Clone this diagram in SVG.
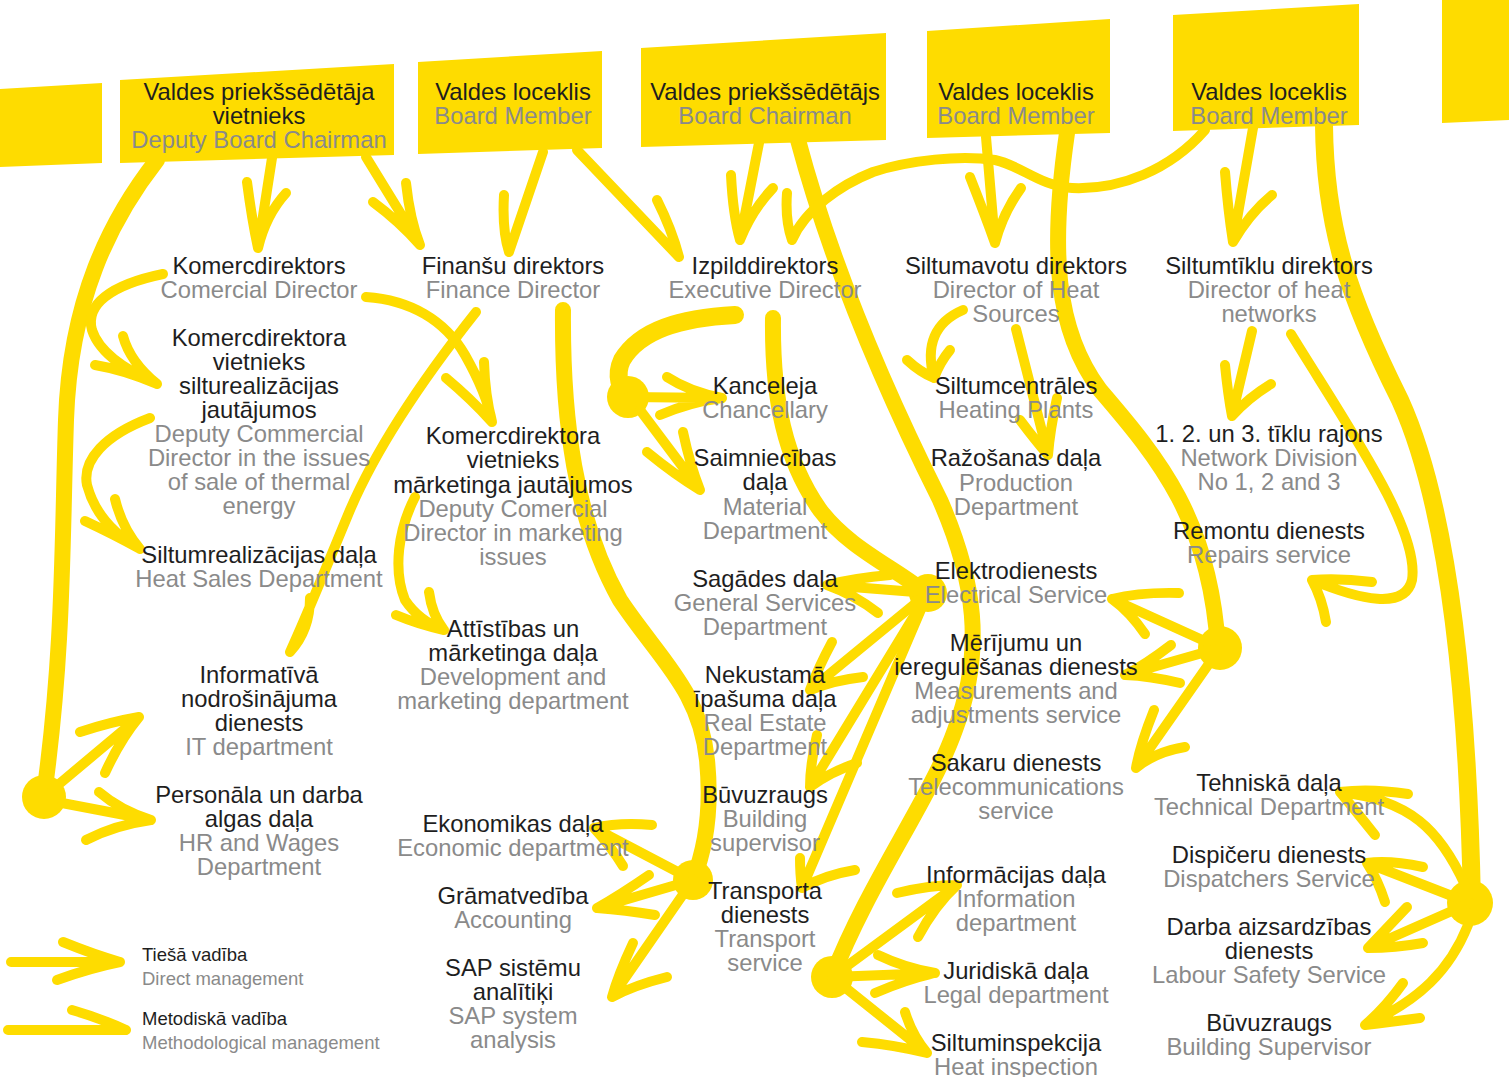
<svg xmlns="http://www.w3.org/2000/svg" width="1509" height="1077" viewBox="0 0 1509 1077">
<style>
.a{fill:none;stroke:#FEDC00;stroke-width:10;stroke-linecap:round;stroke-linejoin:round}
.t{fill:none;stroke:#FEDC00;stroke-width:16;stroke-linecap:round;stroke-linejoin:round}
.d{fill:#FEDC00}
.box{fill:#FEDC00}
text{font-family:"Liberation Sans",Arial,sans-serif;font-size:23.8px;text-anchor:middle}
.k{fill:#1e1e1e}
.g{fill:#8a8a8a}
.lg{font-size:18.5px;text-anchor:start}
</style>
<rect width="1509" height="1077" fill="#ffffff"/>
<g id="connectors">
<path class="t" d="M157,160 C110,220 70,300 66,420 C62,540 64,650 44,795"/>
<path class="t" d="M563,310 C562,420 575,520 620,600 C660,660 700,690 707,760 C712,810 705,850 693,880"/>
<path class="t" style="stroke-width:18" d="M735,315 C680,318 640,330 622,360 C615,375 620,390 628,397"/>
<path class="t" d="M773,318 C772,400 785,460 820,510 C850,550 900,570 928,595"/>
<path class="t" d="M798,140 C830,260 880,380 940,500 C975,580 985,650 955,730 C930,800 870,880 832,977"/>
<path class="t" d="M1067,133 C1050,250 1055,330 1100,390 C1160,460 1210,520 1218,648"/>
<path class="t" style="stroke-width:18" d="M1324,125 C1325,230 1350,300 1400,400 C1450,510 1468,700 1472,903"/>
<circle class="d" cx="44" cy="797" r="22"/>
<circle class="d" cx="693" cy="880" r="20"/>
<circle class="d" cx="628" cy="397" r="21"/>
<circle class="d" cx="928" cy="593" r="19"/>
<circle class="d" cx="832" cy="977" r="21"/>
<circle class="d" cx="1220" cy="648" r="22"/>
<circle class="d" cx="1470" cy="903" r="23"/>
<path class="a" d="M272,158 L258,248 M247,182 Q252,220 258,248 M286,193 Q266,215 258,248"/>
<path class="a" d="M366,157 L420,245 M406,183 Q410,220 420,245 M373,202 Q400,222 420,245"/>
<path class="a" d="M543,152 L509,252 M504,195 Q502,230 509,252"/>
<path class="a" d="M577,150 L679,257 M657,200 Q672,230 679,257"/>
<path class="a" d="M759,143 L740,240 M731,175 Q733,215 740,240 M773,188 Q752,210 740,240"/>
<path class="a" d="M1205,130 C1170,170 1120,190 1072,188 C1040,186 1020,165 995,160 C960,155 910,160 873,172 C840,185 805,210 792,240 M787,193 Q785,220 792,240"/>
<path class="a" d="M986,137 L995,243 M970,177 Q985,215 995,243 M1021,188 Q1003,213 995,243"/>
<path class="a" d="M1253,128 L1233,242 M1225,172 Q1228,210 1233,242 M1272,195 Q1250,213 1233,242"/>
<path class="a" d="M163,274 C110,285 85,305 92,330 C100,355 130,372 157,384 M123,336 Q130,362 157,384 M95,365 Q125,370 157,384"/>
<path class="a" d="M150,418 C105,435 82,460 87,485 C95,515 115,535 140,549 M115,499 Q122,528 140,549 M85,521 Q115,535 140,549"/>
<path class="a" d="M52,790 L139,717 M80,732 Q110,722 139,717 M105,773 Q120,740 139,717"/>
<path class="a" d="M62,803 L151,820 M99,792 Q120,810 151,820 M86,840 Q115,825 151,820"/>
<path class="a" d="M366,297 C410,300 445,320 465,355 C478,378 488,400 492,422 M484,362 Q485,395 492,422 M446,378 Q470,398 492,422"/>
<path class="a" d="M476,312 C430,370 380,440 350,510 C325,570 305,620 290,652 M310,598 Q310,630 290,652"/>
<path class="a" d="M415,497 C398,530 393,570 405,600 C415,615 430,625 444,630 M429,592 Q432,615 444,630 M396,615 Q420,625 444,630"/>
<path class="a" d="M693,880 L594,828 M652,825 Q620,822 594,828 M623,866 Q610,845 594,828"/>
<path class="a" d="M693,880 L597,908 M649,875 Q620,895 597,908 M655,915 Q625,910 597,908"/>
<path class="a" d="M693,880 L612,997 M633,943 Q618,975 612,997 M667,977 Q635,985 612,997"/>
<path class="a" d="M628,397 L722,398 M667,377 Q690,392 722,398 M660,415 Q690,402 722,398"/>
<path class="a" d="M640,410 L700,490 M683,432 Q690,465 700,490 M647,452 Q675,475 700,490"/>
<path class="a" d="M928,593 L827,585 M890,575 Q855,578 827,585 M878,613 Q855,595 827,585"/>
<path class="a" d="M928,593 L810,690 M832,642 Q818,668 810,690 M863,677 Q835,680 810,690"/>
<path class="a" d="M928,593 L810,787 M817,735 Q810,765 810,787 M857,763 Q830,772 810,787"/>
<path class="a" d="M928,593 L802,888 M800,858 Q800,875 802,888 M855,870 Q825,875 802,888"/>
<path class="a" d="M963,310 C935,322 925,345 934,378 M907,360 Q920,372 934,378 M950,350 Q940,362 934,378"/>
<path class="a" d="M1016,329 L1048,455 M1057,398 Q1050,430 1048,455 M1020,420 Q1035,440 1048,455"/>
<path class="a" d="M1220,648 L1112,599 M1179,593 Q1140,592 1112,599 M1145,634 Q1130,612 1112,599"/>
<path class="a" d="M1220,648 L1125,675 M1171,645 Q1145,665 1125,675 M1180,683 Q1150,676 1125,675"/>
<path class="a" d="M1220,648 L1136,768 M1154,710 Q1140,745 1136,768 M1185,747 Q1155,752 1136,768"/>
<path class="a" d="M832,977 L957,885 M897,893 Q930,885 957,885 M918,937 Q935,905 957,885"/>
<path class="a" d="M832,977 L935,973 M878,955 Q905,968 935,973 M875,993 Q905,980 935,973"/>
<path class="a" d="M832,977 L927,1053 M905,1012 Q912,1035 927,1053 M862,1042 Q895,1045 927,1053"/>
<path class="a" d="M1252,331 L1232,416 M1225,365 Q1228,395 1232,416 M1271,384 Q1248,398 1232,416"/>
<path class="a" d="M1291,334 C1350,430 1420,530 1412,580 C1405,610 1360,600 1312,580 M1372,582 Q1340,578 1312,580 M1326,622 Q1322,598 1312,580"/>
<path class="a" d="M1465,885 C1440,830 1410,800 1340,792 M1408,794 Q1370,788 1340,792 M1375,835 Q1355,810 1340,792"/>
<path class="a" d="M1470,903 L1367,863 M1423,867 Q1390,860 1367,863 M1385,902 Q1378,880 1367,863"/>
<path class="a" d="M1470,903 L1368,948 M1407,907 Q1385,930 1368,948 M1423,943 Q1395,948 1368,948"/>
<path class="a" d="M1468,925 C1450,970 1420,1000 1365,1025 M1403,983 Q1385,1008 1365,1025 M1420,1018 Q1390,1022 1365,1025"/>
<path class="a" d="M11,962 L120,962 M63,942 Q95,955 120,962 M57,980 Q90,968 120,962"/>
<path class="a" d="M8,1030 L126,1030 M72,1010 Q100,1018 126,1030"/>
</g>
<g id="box-left"><polygon class="box" points="0,89 102,83 102,163 0,167"/></g>
<g id="box-right"><polygon class="box" points="1442,0 1509,0 1509,120 1442,123"/></g>
<g id="deputy-chairman"><polygon class="box" points="120,80 394,64 394,155 120,163"/>
<text x="259" y="100" class="k">Valdes priekšsēdētāja</text><text x="259" y="124" class="k">vietnieks</text><text x="259" y="148" class="g">Deputy Board Chairman</text></g>
<g id="board-member-1"><polygon class="box" points="418,62 602,51 602,148 418,154"/>
<text x="513" y="100" class="k">Valdes loceklis</text><text x="513" y="124" class="g">Board Member</text></g>
<g id="board-chairman"><polygon class="box" points="641,48 886,33 886,140 641,147"/>
<text x="765" y="100" class="k">Valdes priekšsēdētājs</text><text x="765" y="124" class="g">Board Chairman</text></g>
<g id="board-member-2"><polygon class="box" points="927,31 1110,19 1110,133 927,138"/>
<text x="1016" y="100" class="k">Valdes loceklis</text><text x="1016" y="124" class="g">Board Member</text></g>
<g id="board-member-3"><polygon class="box" points="1173,15 1359,4 1359,125 1173,131"/>
<text x="1269" y="100" class="k">Valdes loceklis</text><text x="1269" y="124" class="g">Board Member</text></g>

<g id="komercdirektors"><text x="259" y="274" class="k">Komercdirektors</text><text x="259" y="298" class="g">Comercial Director</text></g>
<g id="komerc-vietnieks-silt"><text x="259" y="346" class="k">Komercdirektora</text><text x="259" y="370" class="k">vietnieks</text><text x="259" y="394" class="k">silturealizācijas</text><text x="259" y="418" class="k">jautājumos</text><text x="259" y="442" class="g">Deputy Commercial</text><text x="259" y="466" class="g">Director in the issues</text><text x="259" y="490" class="g">of sale of thermal</text><text x="259" y="514" class="g">energy</text></g>
<g id="siltumrealizacijas"><text x="259" y="563" class="k">Siltumrealizācijas daļa</text><text x="259" y="587" class="g">Heat Sales Department</text></g>
<g id="it"><text x="259" y="683" class="k">Informatīvā</text><text x="259" y="707" class="k">nodrošinājuma</text><text x="259" y="731" class="k">dienests</text><text x="259" y="755" class="g">IT department</text></g>
<g id="hr"><text x="259" y="803" class="k">Personāla un darba</text><text x="259" y="827" class="k">algas daļa</text><text x="259" y="851" class="g">HR and Wages</text><text x="259" y="875" class="g">Department</text></g>

<g id="finansu"><text x="513" y="274" class="k">Finanšu direktors</text><text x="513" y="298" class="g">Finance Director</text></g>
<g id="komerc-vietnieks-mark"><text x="513" y="444" class="k">Komercdirektora</text><text x="513" y="468" class="k">vietnieks</text><text x="513" y="493" class="k">mārketinga jautājumos</text><text x="513" y="517" class="g">Deputy Comercial</text><text x="513" y="541" class="g">Director in marketing</text><text x="513" y="565" class="g">issues</text></g>
<g id="attistibas"><text x="513" y="637" class="k">Attīstības un</text><text x="513" y="661" class="k">mārketinga daļa</text><text x="513" y="685" class="g">Development and</text><text x="513" y="709" class="g">marketing department</text></g>
<g id="ekonomikas"><text x="513" y="832" class="k">Ekonomikas daļa</text><text x="513" y="856" class="g">Economic department</text></g>
<g id="gramatvediba"><text x="513" y="904" class="k">Grāmatvedība</text><text x="513" y="928" class="g">Accounting</text></g>
<g id="sap"><text x="513" y="976" class="k">SAP sistēmu</text><text x="513" y="1000" class="k">analītiķi</text><text x="513" y="1024" class="g">SAP system</text><text x="513" y="1048" class="g">analysis</text></g>

<g id="izpilddirektors"><text x="765" y="274" class="k">Izpilddirektors</text><text x="765" y="298" class="g">Executive Director</text></g>
<g id="kanceleja"><text x="765" y="394" class="k">Kanceleja</text><text x="765" y="418" class="g">Chancellary</text></g>
<g id="saimniecibas"><text x="765" y="466" class="k">Saimniecības</text><text x="765" y="490" class="k">daļa</text><text x="765" y="515" class="g">Material</text><text x="765" y="539" class="g">Department</text></g>
<g id="sagades"><text x="765" y="587" class="k">Sagādes daļa</text><text x="765" y="611" class="g">General Services</text><text x="765" y="635" class="g">Department</text></g>
<g id="nekustama"><text x="765" y="683" class="k">Nekustamā</text><text x="765" y="707" class="k">īpašuma daļa</text><text x="765" y="731" class="g">Real Estate</text><text x="765" y="755" class="g">Department</text></g>
<g id="buvuzraugs-1"><text x="765" y="803" class="k">Būvuzraugs</text><text x="765" y="827" class="g">Building</text><text x="765" y="851" class="g">supervisor</text></g>
<g id="transporta"><text x="765" y="899" class="k">Transporta</text><text x="765" y="923" class="k">dienests</text><text x="765" y="947" class="g">Transport</text><text x="765" y="971" class="g">service</text></g>

<g id="siltumavotu"><text x="1016" y="274" class="k">Siltumavotu direktors</text><text x="1016" y="298" class="g">Director of Heat</text><text x="1016" y="322" class="g">Sources</text></g>
<g id="siltumcentrales"><text x="1016" y="394" class="k">Siltumcentrāles</text><text x="1016" y="418" class="g">Heating Plants</text></g>
<g id="razosanas"><text x="1016" y="466" class="k">Ražošanas daļa</text><text x="1016" y="491" class="g">Production</text><text x="1016" y="515" class="g">Department</text></g>
<g id="elektrodienests"><text x="1016" y="579" class="k">Elektrodienests</text><text x="1016" y="603" class="g">Electrical Service</text></g>
<g id="merijumu"><text x="1016" y="651" class="k">Mērījumu un</text><text x="1016" y="675" class="k">ieregulēšanas dienests</text><text x="1016" y="699" class="g">Measurements and</text><text x="1016" y="723" class="g">adjustments service</text></g>
<g id="sakaru"><text x="1016" y="771" class="k">Sakaru dienests</text><text x="1016" y="795" class="g">Telecommunications</text><text x="1016" y="819" class="g">service</text></g>
<g id="informacijas"><text x="1016" y="883" class="k">Informācijas daļa</text><text x="1016" y="907" class="g">Information</text><text x="1016" y="931" class="g">department</text></g>
<g id="juridiska"><text x="1016" y="979" class="k">Juridiskā daļa</text><text x="1016" y="1003" class="g">Legal department</text></g>
<g id="siltuminspekcija"><text x="1016" y="1051" class="k">Siltuminspekcija</text><text x="1016" y="1075" class="g">Heat inspection</text></g>

<g id="siltumtiklu"><text x="1269" y="274" class="k">Siltumtīklu direktors</text><text x="1269" y="298" class="g">Director of heat</text><text x="1269" y="322" class="g">networks</text></g>
<g id="tiklu-rajons"><text x="1269" y="442" class="k">1. 2. un 3. tīklu rajons</text><text x="1269" y="466" class="g">Network Division</text><text x="1269" y="490" class="g">No 1, 2 and 3</text></g>
<g id="remontu"><text x="1269" y="539" class="k">Remontu dienests</text><text x="1269" y="563" class="g">Repairs service</text></g>
<g id="tehniska"><text x="1269" y="791" class="k">Tehniskā daļa</text><text x="1269" y="815" class="g">Technical Department</text></g>
<g id="dispiceru"><text x="1269" y="863" class="k">Dispičeru dienests</text><text x="1269" y="887" class="g">Dispatchers Service</text></g>
<g id="darba"><text x="1269" y="935" class="k">Darba aizsardzības</text><text x="1269" y="959" class="k">dienests</text><text x="1269" y="983" class="g">Labour Safety Service</text></g>
<g id="buvuzraugs-2"><text x="1269" y="1031" class="k">Būvuzraugs</text><text x="1269" y="1055" class="g">Building Supervisor</text></g>

<g id="legend">
<text x="142" y="961" class="k lg">Tiešā vadība</text><text x="142" y="985" class="g lg">Direct management</text>
<text x="142" y="1025" class="k lg">Metodiskā vadība</text><text x="142" y="1049" class="g lg">Methodological management</text>
</g>
</svg>
